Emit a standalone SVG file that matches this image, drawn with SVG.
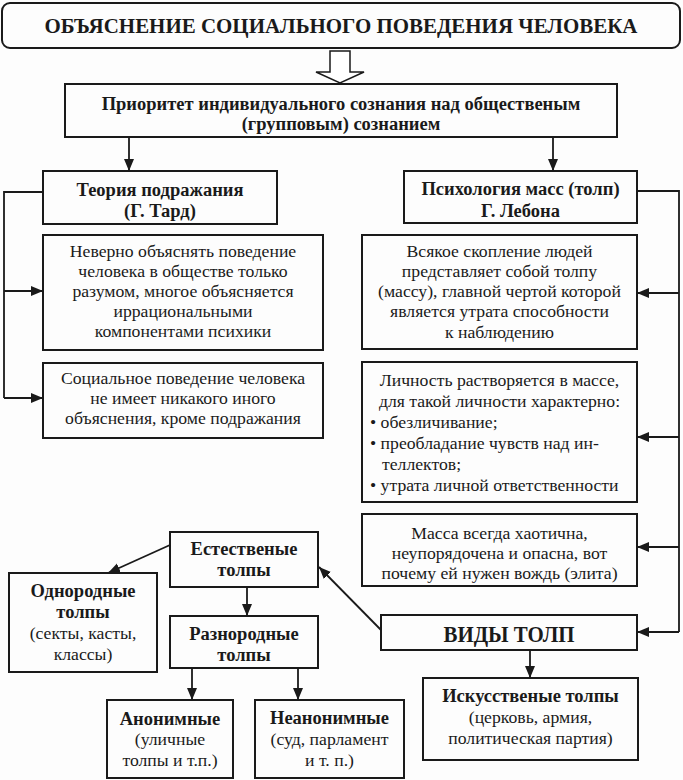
<svg xmlns="http://www.w3.org/2000/svg" width="683" height="780" viewBox="0 0 683 780">
<style>
  .box{fill:none;stroke:#1a1a1a;stroke-width:2}
  .t{font-family:"Liberation Serif","Times New Roman",serif;font-size:17.7px;fill:#1a1a1a;text-anchor:middle}
  .b{font-weight:bold;font-size:18.5px}
  .l{text-anchor:start}
  .c{fill:none;stroke:#1a1a1a;stroke-width:1.8}
</style>
<defs>
  <marker id="ah" markerUnits="userSpaceOnUse" markerWidth="13" markerHeight="11" refX="12" refY="5" orient="auto">
    <path d="M0,0 L12,5 L0,10 z" fill="#1a1a1a"/>
  </marker>
</defs>
<rect width="683" height="780" fill="#fdfdfd"/>

<g id="title">
  <rect class="box" x="2" y="3" width="678" height="45" rx="8" stroke-width="2.5"/>
  <text class="t b" x="341" y="33" font-size="21" style="font-size:21px" textLength="593" lengthAdjust="spacingAndGlyphs">ОБЪЯСНЕНИЕ СОЦИАЛЬНОГО ПОВЕДЕНИЯ ЧЕЛОВЕКА</text>
</g>

<g id="big-arrow">
  <polygon points="330,51 350,51 350,72 364,72 340,83 316,72 330,72" fill="#fff" stroke="#1a1a1a" stroke-width="1.5"/>
</g>

<g id="priority">
  <rect class="box" x="65" y="84" width="552" height="53"/>
  <text class="t b" x="341" y="110">Приоритет индивидуального сознания над общественым</text>
  <text class="t b" x="341" y="130">(групповым) сознанием</text>
</g>

<g id="tarde">
  <rect class="box" x="43" y="171" width="234" height="53"/>
  <text class="t b" x="160" y="196">Теория подражания</text>
  <text class="t b" x="160" y="217">(Г. Тард)</text>
</g>

<g id="tarde1">
  <rect class="box" x="43" y="235" width="280" height="115"/>
  <text class="t" x="183" y="257">Неверно объяснять поведение</text>
  <text class="t" x="183" y="277">человека в обществе только</text>
  <text class="t" x="183" y="297">разумом, многое объясняется</text>
  <text class="t" x="183" y="317">иррациональными</text>
  <text class="t" x="183" y="337">компонентами психики</text>
</g>

<g id="tarde2">
  <rect class="box" x="43" y="363" width="280" height="75"/>
  <text class="t" x="183" y="384">Социальное поведение человека</text>
  <text class="t" x="183" y="404">не имеет никакого иного</text>
  <text class="t" x="183" y="424">объяснения, кроме подражания</text>
</g>

<g id="lebon">
  <rect class="box" x="404" y="171" width="233" height="52"/>
  <text class="t b" x="520.5" y="195">Психология масс (толп)</text>
  <text class="t b" x="520.5" y="217">Г. Лебона</text>
</g>

<g id="lebon1">
  <rect class="box" x="362" y="235" width="275" height="114"/>
  <text class="t" x="499.5" y="257">Всякое скопление людей</text>
  <text class="t" x="499.5" y="277">представляет собой толпу</text>
  <text class="t" x="499.5" y="297">(массу), главной чертой которой</text>
  <text class="t" x="499.5" y="317">является утрата способности</text>
  <text class="t" x="499.5" y="338">к наблюдению</text>
</g>

<g id="lebon2">
  <rect class="box" x="362" y="362" width="275" height="140"/>
  <text class="t" x="499.5" y="386">Личность растворяется в массе,</text>
  <text class="t" x="499.5" y="407">для такой личности характерно:</text>
  <text class="t l" x="370" y="428">• обезличивание;</text>
  <text class="t l" x="370" y="449">• преобладание чувств над ин-</text>
  <text class="t l" x="382" y="470">теллектов;</text>
  <text class="t l" x="370" y="491">• утрата личной ответственности</text>
</g>

<g id="lebon3">
  <rect class="box" x="362" y="514" width="275" height="72"/>
  <text class="t" x="499.5" y="539">Масса всегда хаотична,</text>
  <text class="t" x="499.5" y="559">неупорядочена и опасна, вот</text>
  <text class="t" x="499.5" y="579">почему ей нужен вождь (элита)</text>
</g>

<g id="kinds">
  <rect class="box" x="381" y="615" width="256" height="35"/>
  <text class="t b" x="509" y="642" style="font-size:24px" textLength="131" lengthAdjust="spacingAndGlyphs">ВИДЫ ТОЛП</text>
</g>

<g id="artificial">
  <rect class="box" x="423" y="678" width="215" height="82"/>
  <text class="t b" x="530.5" y="702">Искусственые толпы</text>
  <text class="t" x="530.5" y="723">(церковь, армия,</text>
  <text class="t" x="530.5" y="744">политическая партия)</text>
</g>

<g id="natural">
  <rect class="box" x="170" y="532" width="148" height="55"/>
  <text class="t b" x="244" y="555">Естественые</text>
  <text class="t b" x="244" y="576">толпы</text>
</g>

<g id="homogeneous">
  <rect class="box" x="9" y="573" width="148" height="99"/>
  <text class="t b" x="83" y="597">Однородные</text>
  <text class="t b" x="83" y="618">толпы</text>
  <text class="t" x="83" y="639">(секты, касты,</text>
  <text class="t" x="83" y="660">классы)</text>
</g>

<g id="heterogeneous">
  <rect class="box" x="170" y="616" width="148" height="52"/>
  <text class="t b" x="244" y="640">Разнородные</text>
  <text class="t b" x="244" y="661">толпы</text>
</g>

<g id="anonymous">
  <rect class="box" x="107" y="700" width="126" height="78"/>
  <text class="t b" x="170" y="725">Анонимные</text>
  <text class="t" x="170" y="745">(уличные</text>
  <text class="t" x="170" y="766">толпы и т.п.)</text>
</g>

<g id="nonanonymous">
  <rect class="box" x="255" y="700" width="149" height="78"/>
  <text class="t b" x="329.5" y="724">Неанонимные</text>
  <text class="t" x="329.5" y="745">(суд, парламент</text>
  <text class="t" x="329.5" y="766">и т. п.)</text>
</g>

<g id="connectors">
  <path class="c" d="M129,137 V171" marker-end="url(#ah)"/>
  <path class="c" d="M553,137 V171" marker-end="url(#ah)"/>
  <path class="c" d="M43,192 H4 V398"/>
  <path class="c" d="M4,291 H43" marker-end="url(#ah)"/>
  <path class="c" d="M4,398 H43" marker-end="url(#ah)"/>
  <path class="c" d="M637,191 H679 V632"/>
  <path class="c" d="M679,293 H637" marker-end="url(#ah)"/>
  <path class="c" d="M679,437 H637" marker-end="url(#ah)"/>
  <path class="c" d="M679,547 H637" marker-end="url(#ah)"/>
  <path class="c" d="M679,632 H637" marker-end="url(#ah)"/>
  <path class="c" d="M530,650 V678" marker-end="url(#ah)"/>
  <path class="c" d="M381,630 L319,567" marker-end="url(#ah)"/>
  <path class="c" d="M170,545 L108,573" marker-end="url(#ah)"/>
  <path class="c" d="M247,587 V616" marker-end="url(#ah)"/>
  <path class="c" d="M192,668 V700" marker-end="url(#ah)"/>
  <path class="c" d="M298,668 V700" marker-end="url(#ah)"/>
</g>
</svg>
